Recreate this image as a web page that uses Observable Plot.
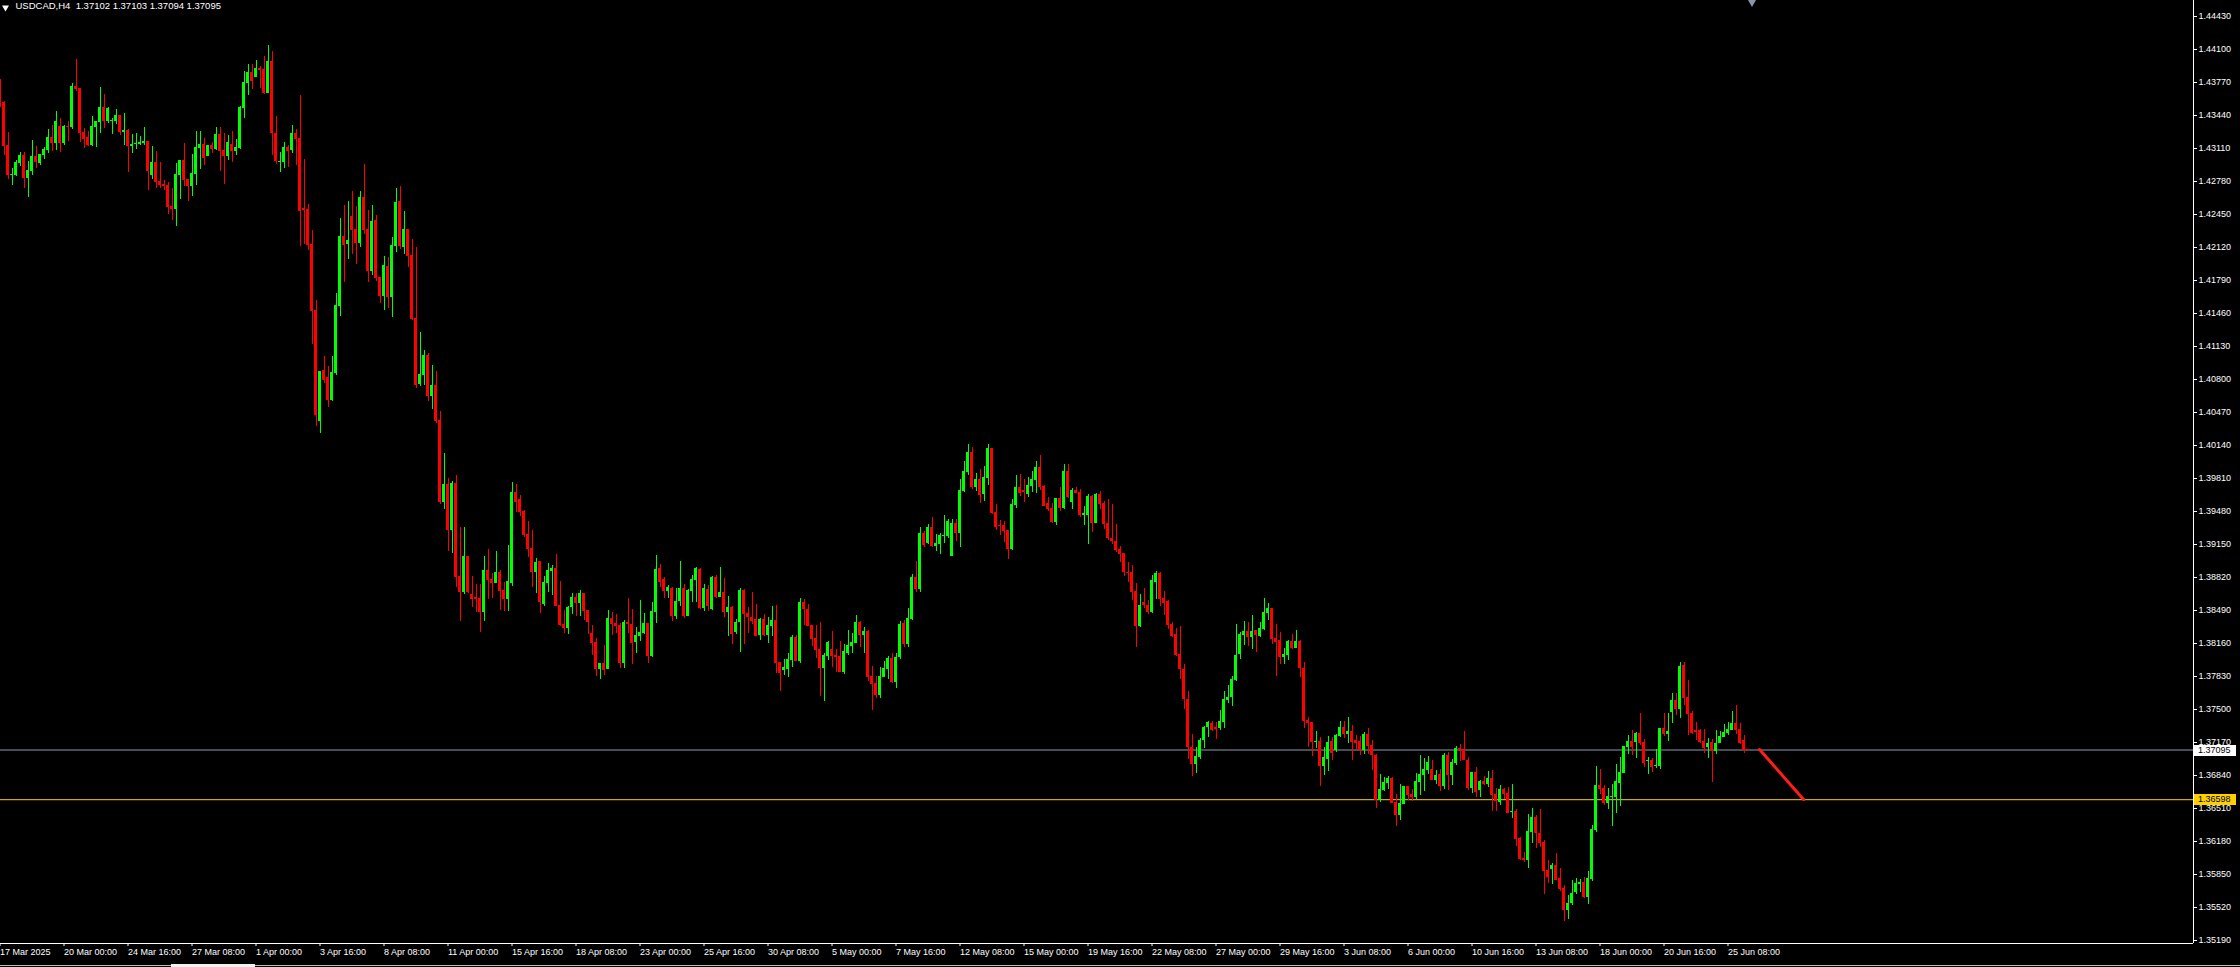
<!DOCTYPE html>
<html><head><meta charset="utf-8">
<script src="https://cdn.jsdelivr.net/npm/d3@7"></script>
<script src="https://cdn.jsdelivr.net/npm/@observablehq/plot@0.6"></script>
<style>html,body{margin:0;padding:0;background:#000;overflow:hidden}</style>
</head><body><div id="chart"></div>
<script>
// USDCAD H4 candles, values in units of 0.0001 (price = value / 10000), bar 0 = 17 Mar 2025 08:00
const openP = [
14376,14357,14314,14284,14284,14296,14304,14281,14288,14303,
14296,14304,14309,14322,14316,14333,14316,14333,14332,14373,
14371,14327,14322,14314,14332,14337,14352,14338,14338,14338,
14344,14327,14329,14313,14315,14315,14316,14318,14284,14297,
14278,14275,14274,14253,14250,14284,14299,14280,14273,14285,
14311,14315,14303,14314,14310,14325,14309,14303,14315,14308,
14311,14351,14376,14387,14382,14391,14390,14366,14398,14326,
14297,14297,14312,14309,14326,14321,14251,14250,14215,14149,
14038,14089,14082,14059,14086,14153,14223,14215,14243,14230,
14216,14262,14230,14188,14239,14182,14163,14193,14162,14213,
14258,14212,14230,14204,14141,14075,14084,14104,14063,14074,
14039,13957,13975,13929,13976,13883,13867,13903,13865,13862,
13861,13847,13889,13880,13876,13887,13869,13860,13876,13967,
13960,13948,13925,13911,13887,13898,13855,13876,13888,13891,
13854,13835,13831,13852,13862,13856,13866,13849,13826,13817,
13790,13796,13790,13841,13836,13834,13796,13837,13835,13817,
13823,13826,13836,13803,13847,13891,13880,13868,13871,13843,
13858,13871,13843,13868,13879,13890,13851,13870,13850,13882,
13862,13867,13847,13852,13827,13837,13869,13846,13842,13840,
13824,13840,13824,13833,13839,13797,13789,13790,13799,13822,
13798,13857,13850,13834,13821,13810,13791,13803,13810,13804,
13803,13787,13806,13813,13816,13837,13824,13828,13783,13776,
13764,13782,13790,13801,13777,13802,13836,13815,13840,13882,
13870,13926,13916,13932,13913,13915,13923,13923,13903,13936,
13926,13968,13987,14007,13972,13980,13965,13981,14011,13947,
13934,13934,13929,13910,13954,13972,13969,13965,13973,13979,
13992,13973,13956,13951,13937,13961,13951,13988,13957,13969,
13967,13944,13944,13963,13936,13965,13956,13936,13921,13918,
13910,13906,13887,13887,13868,13833,13857,13854,13847,13877,
13886,13861,13858,13835,13825,13805,13790,13760,13712,13695,
13702,13719,13732,13736,13732,13731,13737,13759,13762,13779,
13805,13824,13828,13822,13829,13823,13830,13846,13851,13821,
13819,13802,13804,13818,13811,13818,13791,13739,13737,13717,
13718,13693,13700,13718,13709,13723,13732,13725,13728,13719,
13718,13709,13725,13714,13704,13659,13669,13676,13681,13657,
13644,13655,13673,13665,13662,13677,13684,13689,13690,13679,
13685,13673,13704,13684,13696,13711,13710,13699,13671,13687,
13669,13678,13675,13681,13665,13657,13670,13666,13647,13648,
13621,13601,13599,13627,13642,13626,13617,13589,13590,13594,
13581,13571,13549,13556,13567,13575,13577,13562,13580,13629,
13674,13671,13656,13662,13662,13676,13686,13712,13718,13717,
13726,13717,13698,13699,13693,13693,13731,13725,13747,13759,
13750,13794,13762,13746,13729,13729,13718,13712,13717,13708,
13716,13722,13726,13729,13736,13730,13719,13710.2];
const highP = [
14380,14358,14327,14291,14299,14307,14307,14298,14319,14313,
14305,14312,14330,14334,14348,14341,14334,14338,14376,14400,
14371,14331,14328,14343,14338,14372,14365,14352,14341,14350,
14344,14346,14330,14325,14326,14323,14332,14318,14313,14308,
14297,14279,14277,14271,14296,14299,14316,14280,14305,14328,
14328,14321,14314,14317,14332,14332,14326,14324,14328,14320,
14353,14388,14395,14395,14399,14393,14403,14414,14408,14343,
14307,14317,14314,14334,14330,14364,14300,14255,14229,14159,
14088,14103,14093,14103,14166,14241,14254,14258,14268,14253,
14268,14295,14249,14254,14244,14182,14203,14202,14222,14271,
14273,14248,14230,14220,14212,14127,14109,14106,14094,14088,
14048,14006,13981,13978,13984,13932,13932,13903,13883,13875,
13875,13903,13910,13886,13908,13889,13877,13914,13977,13975,
13964,13949,13938,13929,13901,13898,13883,13896,13894,13905,
13878,13849,13853,13866,13866,13869,13866,13849,13834,13821,
13796,13814,13849,13847,13845,13836,13839,13861,13850,13832,
13859,13846,13836,13857,13904,13895,13882,13874,13872,13871,
13898,13875,13870,13884,13892,13891,13875,13874,13883,13884,
13892,13881,13863,13853,13840,13871,13870,13852,13867,13855,
13841,13845,13842,13853,13854,13797,13800,13806,13824,13824,
13861,13860,13855,13834,13834,13837,13806,13818,13828,13810,
13818,13815,13829,13826,13844,13838,13832,13829,13793,13783,
13792,13798,13803,13806,13806,13838,13839,13851,13885,13898,
13932,13928,13935,13942,13925,13926,13944,13940,13940,13940,
13980,13998,14015,14012,13986,13990,13993,14015,14011,13955,
13939,13938,13929,13960,13984,13985,13980,13982,13988,13998,
14004,13974,13962,13956,13961,13972,13995,13995,13971,13972,
13970,13953,13965,13964,13966,13968,13958,13960,13955,13935,
13913,13906,13897,13894,13876,13865,13871,13859,13884,13888,
13887,13868,13859,13837,13831,13833,13795,13768,13725,13712,
13721,13733,13738,13738,13737,13749,13768,13774,13783,13835,
13827,13838,13837,13844,13829,13837,13861,13856,13851,13835,
13827,13811,13819,13825,13829,13819,13797,13742,13737,13728,
13722,13712,13723,13722,13725,13738,13738,13742,13734,13724,
13723,13727,13731,13719,13705,13685,13682,13683,13682,13665,
13675,13673,13673,13670,13686,13704,13701,13703,13699,13689,
13690,13706,13707,13700,13713,13715,13728,13702,13687,13692,
13679,13683,13688,13689,13671,13674,13671,13672,13675,13650,
13622,13607,13645,13651,13644,13650,13619,13599,13596,13606,
13591,13574,13564,13579,13581,13580,13582,13588,13634,13693,
13690,13674,13671,13675,13695,13702,13713,13724,13729,13727,
13746,13720,13702,13701,13710,13731,13746,13746,13766,13766,
13797,13797,13779,13748,13737,13730,13730,13721,13720,13729,
13728,13735,13737,13748,13754,13736,13724,13710.3];
const lowP = [
14352,14304,14280,14274,14283,14293,14271,14262,14284,14291,
14294,14300,14306,14308,14309,14307,14314,14318,14330,14368,
14317,14311,14313,14313,14312,14326,14331,14336,14325,14335,
14324,14314,14287,14306,14310,14314,14314,14269,14280,14271,
14271,14269,14245,14239,14233,14260,14273,14258,14263,14274,
14290,14294,14303,14306,14309,14288,14275,14299,14297,14304,
14310,14341,14364,14370,14382,14371,14365,14366,14304,14295,
14287,14291,14292,14306,14294,14213,14215,14209,14115,14033,
14026,14076,14052,14058,14084,14143,14177,14200,14205,14195,
14212,14225,14177,14184,14178,14156,14149,14151,14142,14207,
14210,14205,14192,14139,14071,14073,14074,14058,14050,14036,
13955,13950,13908,13906,13872,13838,13865,13866,13852,13847,
13827,13838,13860,13861,13876,13849,13848,13848,13873,13947,
13943,13922,13902,13872,13866,13846,13853,13867,13864,13853,
13833,13826,13825,13845,13843,13843,13839,13825,13804,13783,
13780,13784,13790,13824,13826,13791,13791,13826,13795,13806,
13818,13825,13796,13802,13836,13872,13861,13861,13838,13840,
13853,13841,13843,13857,13857,13850,13848,13848,13849,13861,
13862,13842,13823,13815,13825,13807,13815,13826,13835,13823,
13819,13823,13816,13823,13786,13768,13784,13782,13792,13798,
13796,13834,13833,13813,13801,13763,13758,13799,13792,13787,
13787,13785,13804,13806,13816,13812,13806,13778,13749,13761,
13761,13782,13780,13776,13771,13800,13812,13812,13839,13867,
13867,13912,13915,13912,13908,13905,13916,13921,13903,13918,
13912,13967,13984,13970,13968,13956,13958,13974,13945,13929,
13924,13917,13900,13909,13951,13963,13957,13962,13967,13966,
13969,13953,13948,13936,13934,13948,13950,13961,13950,13966,
13942,13934,13915,13927,13936,13950,13930,13919,13915,13907,
13897,13883,13877,13859,13812,13832,13851,13845,13846,13860,
13853,13844,13830,13822,13803,13780,13750,13700,13683,13686,
13700,13711,13722,13728,13720,13729,13731,13756,13753,13778,
13800,13814,13813,13810,13807,13822,13829,13839,13815,13783,
13795,13795,13799,13810,13811,13782,13731,13712,13703,13711,
13673,13684,13688,13699,13707,13722,13721,13716,13699,13710,
13704,13705,13705,13689,13651,13657,13668,13670,13656,13633,
13639,13655,13659,13658,13660,13664,13668,13685,13679,13675,
13668,13670,13669,13674,13694,13698,13699,13669,13666,13662,
13662,13674,13672,13648,13648,13654,13660,13646,13641,13613,
13599,13597,13591,13616,13611,13612,13565,13576,13575,13579,
13568,13538,13540,13554,13565,13567,13561,13555,13578,13627,
13665,13654,13650,13633,13646,13653,13686,13705,13704,13701,
13714,13692,13685,13687,13691,13690,13723,13718,13736,13744,
13741,13754,13724,13725,13719,13716,13706,13701,13677,13705,
13716,13722,13724,13729,13725,13715,13706,13709.4];
const closeP = [
14357,14313,14284,14285,14297,14304,14281,14289,14303,14297,
14305,14310,14322,14316,14338,14316,14333,14332,14373,14370,
14326,14320,14314,14333,14338,14352,14338,14351,14339,14344,
14327,14329,14313,14315,14316,14317,14318,14288,14297,14277,
14274,14273,14252,14250,14285,14299,14279,14273,14286,14312,
14315,14301,14314,14310,14325,14308,14303,14317,14308,14312,
14352,14377,14387,14378,14391,14389,14366,14398,14326,14298,
14298,14312,14308,14326,14320,14248,14249,14214,14148,14044,
14088,14079,14059,14087,14154,14223,14214,14219,14229,14216,
14262,14229,14188,14238,14181,14163,14194,14162,14214,14257,
14213,14230,14203,14140,14074,14085,14104,14063,14074,14038,
13957,13975,13929,13976,13882,13867,13903,13867,13860,13860,
13847,13889,13879,13876,13887,13868,13860,13878,13967,13957,
13947,13924,13910,13887,13897,13857,13877,13889,13891,13853,
13834,13831,13852,13862,13856,13866,13848,13837,13816,13790,
13796,13789,13841,13835,13833,13796,13837,13835,13816,13824,
13827,13836,13803,13848,13890,13877,13868,13872,13843,13858,
13871,13843,13869,13880,13891,13851,13871,13853,13882,13862,
13867,13847,13852,13825,13837,13869,13845,13842,13838,13823,
13840,13824,13834,13839,13796,13786,13792,13800,13822,13798,
13857,13850,13833,13820,13809,13791,13804,13817,13803,13802,
13787,13808,13814,13817,13837,13824,13828,13782,13775,13764,
13783,13791,13801,13777,13802,13835,13815,13841,13882,13870,
13926,13914,13932,13913,13916,13924,13924,13938,13936,13926,
13969,13988,14007,13972,13980,13964,13982,14011,13946,13932,
13933,13928,13910,13955,13972,13966,13967,13974,13980,13992,
13972,13953,13950,13937,13961,13951,13988,13962,13969,13966,
13944,13946,13963,13936,13965,13955,13935,13921,13918,13909,
13905,13887,13886,13867,13833,13854,13854,13847,13879,13886,
13860,13856,13834,13823,13804,13790,13760,13712,13695,13703,
13719,13732,13737,13729,13730,13738,13760,13762,13780,13804,
13825,13828,13822,13828,13824,13831,13847,13851,13820,13817,
13802,13805,13818,13811,13818,13791,13738,13736,13717,13718,
13693,13702,13717,13706,13724,13732,13725,13728,13717,13716,
13709,13725,13713,13704,13659,13670,13677,13681,13656,13644,
13656,13673,13664,13662,13678,13685,13690,13697,13679,13684,
13673,13704,13684,13697,13711,13709,13699,13671,13687,13667,
13678,13675,13681,13664,13658,13670,13665,13646,13648,13620,
13600,13599,13628,13642,13626,13616,13588,13582,13594,13579,
13570,13549,13556,13566,13576,13577,13562,13581,13630,13674,
13670,13656,13663,13663,13678,13687,13713,13718,13712,13726,
13716,13696,13699,13692,13694,13731,13725,13728,13759,13750,
13793,13761,13745,13726,13727,13717,13711,13716,13708,13716,
13723,13727,13730,13736,13729,13716,13709,13709.5];

// bottom time labels (every 16 bars)
const timeLabels = ["17 Mar 2025","20 Mar 00:00","24 Mar 16:00","27 Mar 08:00","1 Apr 00:00","3 Apr 16:00","8 Apr 08:00","11 Apr 00:00","15 Apr 16:00","18 Apr 08:00","23 Apr 00:00","25 Apr 16:00","30 Apr 08:00","5 May 00:00","7 May 16:00","12 May 08:00","15 May 00:00","19 May 16:00","22 May 08:00","27 May 00:00","29 May 16:00","3 Jun 08:00","6 Jun 00:00","10 Jun 16:00","13 Jun 08:00","18 Jun 00:00","20 Jun 16:00","25 Jun 08:00"];
const barsPerLabel = 16;
// right price axis ticks
const priceTicks = [1.35190,1.35520,1.35850,1.36180,1.36510,1.36840,1.37170,1.37500,1.37830,1.38160,1.38490,1.38820,1.39150,1.39480,1.39810,1.40140,1.40470,1.40800,1.41130,1.41460,1.41790,1.42120,1.42450,1.42780,1.43110,1.43440,1.43770,1.44100,1.44430];
// horizontal levels
const bidLevel = 1.37095;
const goldLevel = 1.36598;
// red projection line (bar index, price)
const arrowIdx = [439.9, 450.9];
const arrowPrice = [1.3710, 1.3660];
const shiftIdx = 438;
const titleText = "USDCAD,H4\u00a0\u00a01.37102 1.37103 1.37094 1.37095";

const N = Math.min(openP.length, highP.length, lowP.length, closeP.length);
const bars = d3.range(N).map(i => ({i, o: openP[i]/1e4, h: highP[i]/1e4, l: lowP[i]/1e4, c: closeP[i]/1e4}));
const col = d => d.c >= d.o ? "#00ff00" : "#ff0000";
const xTicks = timeLabels.map((_, k) => k * barsPerLabel);
const labelOf = new Map(xTicks.map((t, k) => [t, timeLabels[k]]));
const arrow = arrowIdx.map((x, k) => ({x, p: arrowPrice[k]}));

const xDom = [0.125, 548.375];
const yDom = [1.3516, 1.4459];
const font = "'Liberation Sans', Arial, sans-serif";

const chart = Plot.plot({
  width: 2240, height: 967,
  marginLeft: 0, marginRight: 47, marginTop: 0, marginBottom: 24,
  style: {background: "#000", color: "#fff", fontFamily: font, fontSize: "9px"},
  x: {type: "linear", domain: xDom},
  y: {type: "linear", domain: yDom},
  marks: [
    Plot.ruleY([goldLevel], {stroke: "#ffd000", strokeWidth: 1}),
    Plot.ruleY([bidLevel], {stroke: "#8c9bb0", strokeWidth: 1}),
    Plot.ruleX(bars, {x: "i", y1: "l", y2: "h", stroke: col, strokeWidth: 1, shapeRendering: "crispEdges"}),
    Plot.rect(bars, {x1: d => d.i - 0.375, x2: d => d.i + 0.375, y1: "o",
      y2: d => Math.abs(d.c - d.o) < 0.00005 ? d.o - 0.0001 : d.c, fill: col, shapeRendering: "crispEdges"}),
    Plot.line(arrow, {x: "x", y: "p", stroke: "#ff1c1c", strokeWidth: 3}),
    Plot.ruleX([xDom[1]], {stroke: "#fff", strokeWidth: 1}),
    Plot.ruleY([yDom[0]], {stroke: "#fff", strokeWidth: 1}),
    Plot.axisY({anchor: "right", ticks: priceTicks, tickFormat: d => d.toFixed(5), tickSize: 3, tickPadding: 2, stroke: "#fff", fill: "#fff", fontSize: 9}),
    Plot.axisX({anchor: "bottom", ticks: xTicks, tickFormat: d => labelOf.get(d), textAnchor: "start", dx: 0, tickSize: 3, tickPadding: 2, stroke: "#fff", fill: "#fff", fontSize: 9}),
    Plot.dot([shiftIdx], {x: d => d, frameAnchor: "top", symbol: "triangle", rotate: 180, r: 3.5, fill: "#8896a8", stroke: null, dy: 1}),
    Plot.text([titleText], {frameAnchor: "top-left", dx: 15, dy: 2, lineAnchor: "top", textAnchor: "start", fill: "#fff", fontSize: 9.5}),
    Plot.dot([0], {frameAnchor: "top-left", dx: 5, dy: 7, symbol: "triangle", rotate: 180, r: 2.6, fill: "#fff", stroke: null})
  ]
});
document.getElementById("chart").appendChild(chart);

// price label boxes on the right axis
const ys = chart.scale("y");
const svg = d3.select(chart);
const g = svg.append("g").attr("font-family", font).attr("font-size", 9).attr("text-anchor", "start");
[[bidLevel, "#ffffff"], [goldLevel, "#ffd000"]].forEach(([v, bg]) => {
  const yy = Math.round(ys.apply(v));
  g.append("rect").attr("x", 2194).attr("y", yy - 5).attr("width", 42).attr("height", 11).attr("fill", bg);
  g.append("text").attr("x", 2198).attr("y", yy).attr("dy", "0.34em").attr("text-anchor", "start").attr("fill", "#000").text(v.toFixed(5));
});
// bottom scrollbar strip
svg.append("rect").attr("x", 0).attr("y", 965).attr("width", 2240).attr("height", 1).attr("fill", "#bdbdbd");
svg.append("rect").attr("x", 171).attr("y", 964).attr("width", 84).attr("height", 3).attr("fill", "#f0f0f0");
</script></body></html>
